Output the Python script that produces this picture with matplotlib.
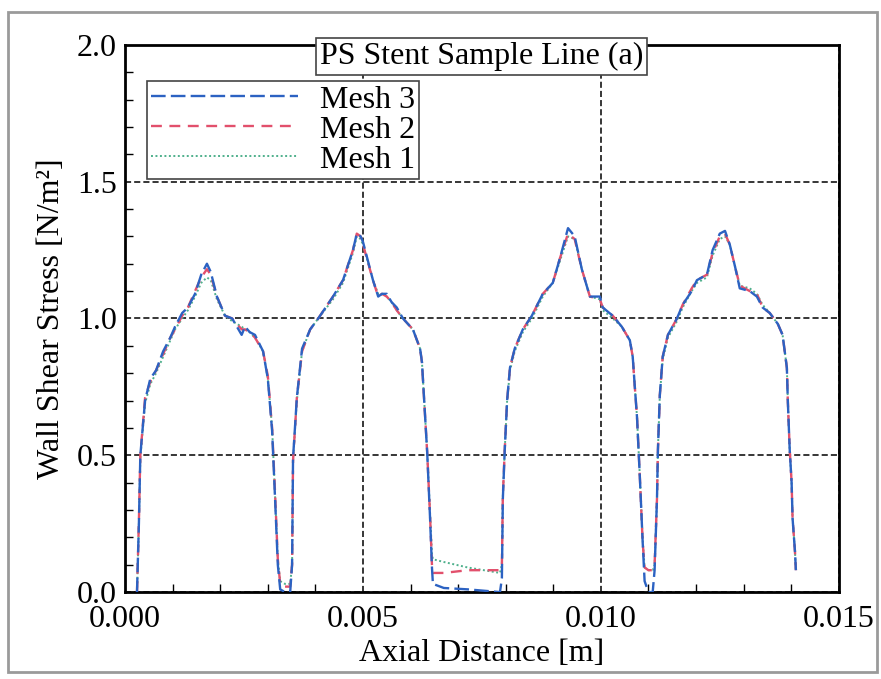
import matplotlib
matplotlib.use("Agg")
import matplotlib.pyplot as plt
from matplotlib.ticker import MultipleLocator, FormatStrFormatter
from matplotlib.patches import Rectangle

plt.rcParams['font.family'] = ['Liberation Serif', 'DejaVu Serif']

# Axial position along the sample line [mm]
axial_mm = [0.25, 0.29, 0.32, 0.42, 0.53, 0.65, 0.80, 0.95, 1.05, 1.20, 1.32, 1.47, 1.60,
            1.72, 1.80, 1.93, 2.10, 2.25, 2.35, 2.45, 2.52, 2.62, 2.73, 2.90, 3.00, 3.09,
            3.15, 3.21, 3.26, 3.36, 3.47, 3.51, 3.53, 3.61, 3.72, 3.89, 4.06, 4.37, 4.58,
            4.79, 4.87, 4.95, 5.00, 5.21, 5.32, 5.40, 5.50, 5.60, 5.71, 5.84, 6.05, 6.20,
            6.24, 6.30, 6.35, 6.41, 6.45, 6.47, 6.70, 7.20, 7.88, 7.92, 7.94, 7.98, 8.03,
            8.09, 8.19, 8.36, 8.55, 8.78, 8.99, 9.14, 9.31, 9.45, 9.60, 9.77, 9.98, 10.04,
            10.25, 10.44, 10.61, 10.67, 10.71, 10.76, 10.82, 10.88, 10.92, 11.00, 11.09,
            11.13, 11.18, 11.20, 11.24, 11.30, 11.41, 11.60, 11.72, 11.91, 12.02, 12.23,
            12.35, 12.50, 12.61, 12.71, 12.82, 12.92, 13.13, 13.28, 13.40, 13.55, 13.72,
            13.82, 13.91, 13.93, 13.97, 14.01, 14.03, 14.08, 14.10]

# Wall shear stress [N/m^2] for each mesh
wss_mesh3 = [0.00, 0.25, 0.50, 0.70, 0.78, 0.81, 0.88, 0.93, 0.97, 1.02, 1.04, 1.09, 1.16,
             1.20, 1.17, 1.08, 1.01, 1.00, 0.97, 0.94, 0.97, 0.95, 0.94, 0.88, 0.78, 0.59,
             0.35, 0.10, 0.01, 0.00, 0.00, 0.10, 0.49, 0.71, 0.89, 0.96, 1.00, 1.08, 1.14,
             1.25, 1.31, 1.30, 1.28, 1.14, 1.08, 1.09, 1.09, 1.06, 1.04, 1.00, 0.96, 0.89,
             0.84, 0.66, 0.51, 0.27, 0.09, 0.03, 0.015, 0.01, 0.00, 0.05, 0.34, 0.52, 0.70,
             0.82, 0.89, 0.96, 1.01, 1.09, 1.13, 1.22, 1.33, 1.30, 1.18, 1.08, 1.08, 1.04,
             1.01, 0.97, 0.92, 0.86, 0.76, 0.64, 0.42, 0.18, 0.04, 0.00, 0.00,
             0.08, 0.34, 0.52, 0.72, 0.86, 0.94, 1.00, 1.05, 1.10, 1.14, 1.16,
             1.25, 1.31, 1.32, 1.27, 1.19, 1.11, 1.10, 1.08, 1.04, 1.02, 0.98,
             0.94, 0.82, 0.70, 0.52, 0.40, 0.27, 0.15, 0.08]

wss_mesh2 = [0.00, 0.26, 0.50, 0.71, 0.77, 0.81, 0.87, 0.93, 0.96, 1.01, 1.04, 1.10, 1.15,
             1.18, 1.16, 1.08, 1.01, 1.00, 0.98, 0.96, 0.96, 0.95, 0.93, 0.88, 0.79, 0.60,
             0.37, 0.12, 0.03, 0.02, 0.02, 0.10, 0.48, 0.71, 0.88, 0.96, 1.00, 1.08, 1.14,
             1.25, 1.31, 1.30, 1.27, 1.14, 1.08, 1.09, 1.08, 1.06, 1.03, 1.00, 0.96, 0.89,
             0.84, 0.66, 0.51, 0.28, 0.10, 0.07, 0.07, 0.08, 0.08, 0.10, 0.35, 0.52, 0.70,
             0.82, 0.89, 0.96, 1.01, 1.09, 1.13, 1.22, 1.31, 1.29, 1.18, 1.08, 1.07, 1.04,
             1.01, 0.97, 0.92, 0.86, 0.76, 0.64, 0.42, 0.18, 0.09, 0.08, 0.08,
             0.10, 0.34, 0.52, 0.72, 0.86, 0.94, 1.00, 1.05, 1.11, 1.14, 1.16,
             1.24, 1.30, 1.31, 1.27, 1.19, 1.12, 1.10, 1.09, 1.04, 1.02, 0.98,
             0.94, 0.82, 0.70, 0.52, 0.40, 0.27, 0.15, 0.08]

wss_mesh1 = [0.00, 0.25, 0.49, 0.69, 0.76, 0.80, 0.86, 0.92, 0.96, 1.00, 1.03, 1.08, 1.13,
             1.15, 1.14, 1.07, 1.01, 0.99, 0.98, 0.97, 0.96, 0.95, 0.93, 0.88, 0.78, 0.60,
             0.36, 0.12, 0.04, 0.03, 0.03, 0.10, 0.48, 0.70, 0.88, 0.96, 1.00, 1.07, 1.13,
             1.24, 1.30, 1.29, 1.27, 1.14, 1.09, 1.09, 1.08, 1.06, 1.03, 1.00, 0.96, 0.89,
             0.84, 0.66, 0.51, 0.29, 0.14, 0.12, 0.11, 0.09, 0.07, 0.10, 0.35, 0.52, 0.70,
             0.81, 0.88, 0.95, 1.00, 1.08, 1.13, 1.21, 1.30, 1.29, 1.18, 1.08, 1.07, 1.03,
             1.00, 0.97, 0.92, 0.86, 0.76, 0.64, 0.42, 0.19, 0.09, 0.08, 0.08,
             0.10, 0.34, 0.52, 0.72, 0.85, 0.93, 0.99, 1.04, 1.10, 1.13, 1.15,
             1.23, 1.29, 1.30, 1.27, 1.19, 1.12, 1.11, 1.09, 1.05, 1.02, 0.98,
             0.94, 0.82, 0.70, 0.52, 0.40, 0.27, 0.15, 0.08]

series_labels = ["Mesh 3", "Mesh 2", "Mesh 1"]
x_ticks = [0.000, 0.005, 0.010, 0.015]
y_ticks = [0.0, 0.5, 1.0, 1.5, 2.0]

axial_m = [v * 1e-3 for v in axial_mm]

fig = plt.figure(figsize=(8.81, 6.79), dpi=100)
ax = fig.add_axes([0.142, 0.128, 0.81, 0.806])

FS = 23

l1, = ax.plot(axial_m, wss_mesh1, color='#4fb08c', lw=1.4, dashes=(1.0, 1.3), zorder=3)
l2, = ax.plot(axial_m, wss_mesh2, color='#e2506c', lw=1.7, dashes=(4.6, 3.2), zorder=4)
l3, = ax.plot(axial_m, wss_mesh3, color='#2c62c2', lw=1.7, dashes=(6.2, 2.2), zorder=5)

ax.set_xlim(0, 0.015)
ax.set_ylim(0, 2.0)
ax.set_xticks(x_ticks)
ax.set_yticks(y_ticks)
ax.xaxis.set_major_formatter(FormatStrFormatter('%.3f'))
ax.yaxis.set_major_formatter(FormatStrFormatter('%.1f'))
ax.xaxis.set_minor_locator(MultipleLocator(0.001))
ax.yaxis.set_minor_locator(MultipleLocator(0.1))
ax.tick_params(which='both', direction='in', top=False, right=False, labelsize=FS, width=1.0)
ax.tick_params(axis='x', which='major', length=0, pad=9)
ax.tick_params(axis='y', which='major', length=0, pad=6)
ax.tick_params(which='minor', length=6)

ax.grid(True, which='major', color='black', linestyle=(0, (4, 2)), linewidth=1.1)

for sp in ax.spines.values():
    sp.set_linewidth(2.0)
    sp.set_color('black')

ax.set_xlabel("Axial Distance [m]", fontsize=FS, labelpad=4)
ax.set_ylabel("Wall Shear Stress [N/m²]", fontsize=FS, labelpad=8)

ax.text(0.5, 0.978, "PS Stent Sample Line (a)", transform=ax.transAxes, ha='center',
        va='center', fontsize=FS, zorder=10,
        bbox=dict(boxstyle='square,pad=0.12', facecolor='white', edgecolor='#444444', lw=1.2))

leg = ax.legend([l3, l2, l1], series_labels, loc='upper left', bbox_to_anchor=(0.031, 0.933),
                fontsize=FS, frameon=True, fancybox=False, framealpha=1, edgecolor='#444444',
                handlelength=4.6, handletextpad=0.7, labelspacing=0.02, borderpad=0.12,
                borderaxespad=0.0)
leg.get_frame().set_linewidth(1.2)
leg.set_zorder(10)

# thin grey border around the whole figure
fig.patches.append(Rectangle((0.009, 0.011), 0.987, 0.972, transform=fig.transFigure,
                             fill=False, edgecolor='#9a9a9a', lw=2.0))

fig.savefig("out.png", dpi=100)
